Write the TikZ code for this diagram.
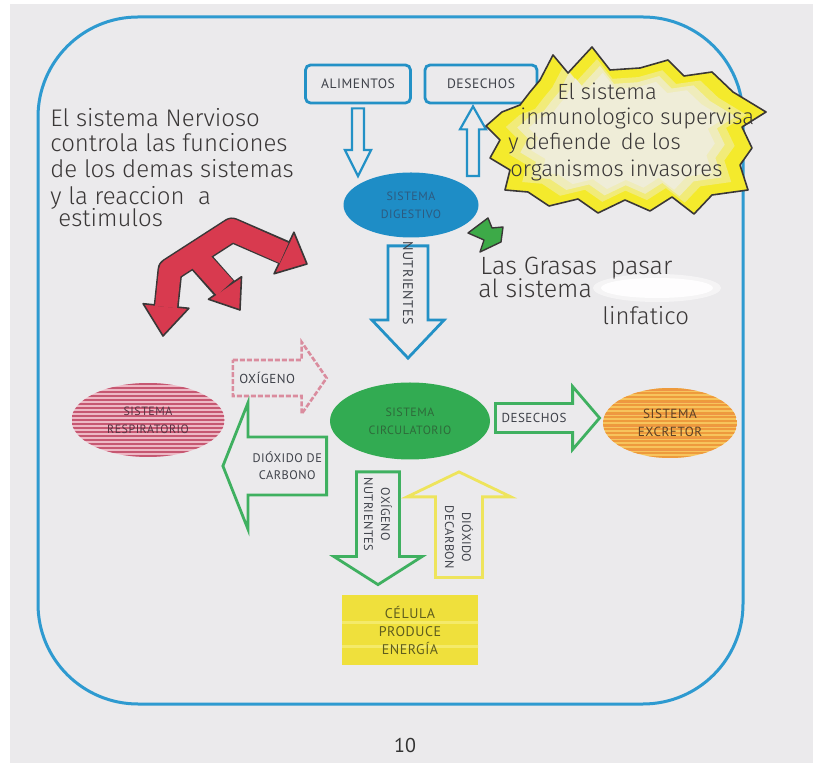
\documentclass[tikz,border=0pt]{standalone}
\usepackage{fontspec}
\setmainfont{PT Sans}
\newfontfamily\labelfont[LetterSpace=4]{PT Sans}
\newfontfamily\handfont{Fira Sans Light}
\usetikzlibrary{calc,shapes.geometric}

\definecolor{paper}{HTML}{EBEAEC}
\definecolor{frameblue}{HTML}{2E9AD0}
\definecolor{boxblue}{HTML}{2391C6}
\definecolor{digblue}{HTML}{1E8DC6}
\definecolor{digtext}{HTML}{2D5A80}
\definecolor{circgreen}{HTML}{32AB52}
\definecolor{circtext}{HTML}{2E6A3A}
\definecolor{arrowgreen}{HTML}{3FB060}
\definecolor{arrowpink}{HTML}{DA8C9E}
\definecolor{arrowyellow}{HTML}{EEE45C}
\definecolor{inkgray}{HTML}{3E4149}
\definecolor{pencil}{HTML}{3A3737}
\definecolor{respdark}{HTML}{C65872}
\definecolor{resplight}{HTML}{EDB9C5}
\definecolor{resptext}{HTML}{5A3242}
\definecolor{excrlight}{HTML}{F7C45C}
\definecolor{excrdark}{HTML}{EE9A3C}
\definecolor{excrred}{HTML}{E8763A}
\definecolor{excrtext}{HTML}{5E4226}
\definecolor{cellyellow}{HTML}{EFE03C}
\definecolor{celllight}{HTML}{F4EA6A}
\definecolor{celltext}{HTML}{5F5D1E}
\definecolor{markerred}{HTML}{D83A4F}
\definecolor{markergreen}{HTML}{3DAA48}
\definecolor{burstyellow}{HTML}{F4EA2C}
\definecolor{burstpale}{HTML}{EFEDD8}

% hollow block arrow: style, tail, tip, half shaft width, half head width, head length
\newcommand\blockarrow[6]{%
  \coordinate (ba-base) at ($(#3)!#6!(#2)$);
  \draw[#1] ($(#2)!#4!90:(#3)$) -- ($(ba-base)!#4!90:(#3)$) -- ($(ba-base)!#5!90:(#3)$)
    -- (#3) -- ($(ba-base)!#5!-90:(#3)$) -- ($(ba-base)!#4!-90:(#3)$) -- ($(#2)!#4!-90:(#3)$) -- cycle;
}
% marker arrow head: tip, base, half width
\newcommand\markerhead[3]{%
  \filldraw[fill=markerred, draw=pencil, line width=0.8pt, line join=round]
    ($(#2)!#3!90:(#1)$) -- (#1) -- ($(#2)!#3!-90:(#1)$) -- cycle;
}

\begin{document}
\begin{tikzpicture}[x=0.5pt,y=-0.5pt,
  lbl/.style={font=\labelfont\fontsize{6.8}{8}\selectfont, text=inkgray, align=center, inner sep=0pt},
  hand/.style={font=\handfont\fontsize{12}{14}\selectfont, text=pencil, anchor=base west, inner sep=0pt},
  topbox/.style={draw=boxblue, line width=1.4pt, rounded corners=2.5pt, minimum height=19pt, inner sep=0pt},
  sysellipse/.style={ellipse, inner sep=0pt},
  bluearrow/.style={draw=boxblue, line width=1.1pt},
  greenarrow/.style={draw=arrowgreen, line width=1.4pt},
  pinkarrow/.style={draw=arrowpink, line width=1.3pt, dash pattern=on 2.5pt off 1pt},
  yellowarrow/.style={draw=arrowyellow, line width=1.4pt},
]
\useasboundingbox (0,0) rectangle (813,763);
\fill[paper] (0,0) rectangle (813,763);
\fill[white] (0,0) rectangle (10,763);
\fill[white] (0,0) rectangle (813,4);

% outer frame
\draw[frameblue, line width=1.5pt, rounded corners=50pt] (38,17) rectangle (743,704);

% top boxes
\node[topbox, lbl, minimum width=52.5pt] (alim) at (358,84) {ALIMENTOS};
\node[topbox, lbl, minimum width=56pt] (desA) at (481,84) {DESECHOS};

% systems
\node[sysellipse, lbl, fill=digblue, minimum width=67.5pt, minimum height=32.5pt,
      text=digtext, font=\labelfont\fontsize{6}{9}\selectfont] (dig) at (411,205) {SISTEMA\\DIGESTIVO};
\node[sysellipse, lbl, fill=circgreen, minimum width=80pt, minimum height=38.5pt,
      text=circtext, font=\labelfont\fontsize{6}{9}\selectfont] (circ) at (410,421) {SISTEMA\\CIRCULATORIO};
\node[sysellipse, lbl, minimum width=76.5pt, minimum height=37pt,
      text=resptext, font=\labelfont\fontsize{6}{9}\selectfont,
      path picture={
        \fill[resplight] (path picture bounding box.north west) rectangle (path picture bounding box.south east);
        \foreach \k in {0,4,...,76}
          \fill[respdark] ($(path picture bounding box.north west)+(0,\k)$) rectangle ++(160,2);
      }] (resp) at (148,420) {SISTEMA\\RESPIRATORIO};
\node[sysellipse, lbl, minimum width=67pt, minimum height=35pt,
      text=excrtext, font=\labelfont\fontsize{6.6}{9}\selectfont,
      path picture={
        \fill[excrlight] (path picture bounding box.north west) rectangle (path picture bounding box.south east);
        \foreach \k in {0,4,...,72}
          \fill[excrdark] ($(path picture bounding box.north west)+(0,\k)$) rectangle ++(140,2);
        \foreach \k in {2,14,...,72}
          \fill[excrred, opacity=0.6] ($(path picture bounding box.north west)+(0,\k)$) rectangle ++(140,1.2);
      }] (excr) at (670,423) {SISTEMA\\EXCRETOR};
\node[lbl, minimum width=68pt, minimum height=35pt, text=celltext,
      font=\labelfont\fontsize{7}{9}\selectfont,
      path picture={
        \fill[cellyellow] (path picture bounding box.north west) rectangle (path picture bounding box.south east);
        \foreach \k in {26,50}
          \fill[celllight] ($(path picture bounding box.north west)+(0,\k)$) rectangle ++(140,3);
      }] (cell) at (410,630) {CÉLULA\\PRODUCE\\ENERGÍA};

% food goes down into the digestive system
\coordinate (alA) at ($(alim.south)+(0,4)$);
\coordinate (alB) at ($(alim.south |- dig.north)+(0,4)$);
\blockarrow{bluearrow}{alA}{alB}{3pt}{6.5pt}{13pt}

% waste leaves the digestive system
\coordinate (wdA) at ($(desA.south |- dig.north)+(-8,4)$);
\coordinate (wdB) at ($(desA.south)+(-8,2)$);
\blockarrow{bluearrow}{wdA}{wdB}{3pt}{6.5pt}{11.5pt}

% nutrients to the blood
\coordinate (nuA) at ($(dig.south)+(-3,8)$);
\coordinate (nuB) at ($(circ.north)+(-2,-24)$);
\blockarrow{bluearrow, line width=1.4pt}{nuA}{nuB}{10pt}{18pt}{19pt}
\path (nuA) -- (ba-base) node[midway, lbl, rotate=-90, font=\labelfont\fontsize{7}{8}\selectfont] (nuT) {NUTRIENTES};

% oxygen from the lungs
\coordinate (oxA) at ($(resp.east)+(8,-42)$);
\coordinate (oxB) at ($(circ.west)+(-3,-43)$);
\blockarrow{pinkarrow}{oxA}{oxB}{9pt}{18pt}{12.5pt}
\path (oxA) -- (ba-base) node[midway, lbl, font=\labelfont\fontsize{6.5}{8}\selectfont] (oxT) {OXÍGENO};

% carbon dioxide back to the lungs
\coordinate (dcA) at ($(circ.west)+(-3,45)$);
\coordinate (dcB) at ($(resp.east)+(-2,46)$);
\blockarrow{greenarrow}{dcA}{dcB}{14.5pt}{31.5pt}{12.5pt}
\path (dcA) -- (ba-base) node[midway, lbl, font=\labelfont\fontsize{6.2}{8.5}\selectfont] (dcT) {DIÓXIDO DE\\CARBONO};

% waste to the excretory system
\coordinate (deA) at ($(circ.east)+(5,-3)$);
\coordinate (deB) at ($(excr.west)+(-3,-5)$);
\blockarrow{greenarrow}{deA}{deB}{7.25pt}{15.75pt}{13.5pt}
\path (deA) -- (ba-base) node[midway, lbl, font=\labelfont\fontsize{6.5}{8}\selectfont] (deT) {DESECHOS};

% oxygen and nutrients to the cell
\coordinate (onA) at ($(circ.south)+(-32,12)$);
\coordinate (onB) at ($(cell.north)+(-32,-10)$);
\blockarrow{greenarrow}{onA}{onB}{10.75pt}{22pt}{14pt}
\path (onA) -- (ba-base) node[midway, lbl, rotate=-90, font=\labelfont\fontsize{6.2}{8.5}\selectfont] (onT) {OXÍGENO\\NUTRIENTES};

% carbon dioxide from the cell
\coordinate (dyA) at ($(cell.north)+(49,-17)$);
\coordinate (dyB) at ($(circ.south)+(49,12)$);
\blockarrow{yellowarrow}{dyA}{dyB}{11.75pt}{26pt}{12.5pt}
\path (dyA) -- (ba-base) node[midway, lbl, rotate=-90, font=\labelfont\fontsize{6.2}{8.5}\selectfont] (dyT) {DIÓXIDO\\DECARBON};

% immune system burst: bright marker rim, pale centre
\def\burstpath{(540,80) -- (553,55) -- (568,73) -- (592,47) -- (610,70) -- (640,68) -- (668,60)
  -- (684,76) -- (712,72) -- (733,92) -- (766,112) -- (742,127) -- (752,148) -- (740,165)
  -- (748,190) -- (712,195) -- (694,214) -- (672,197) -- (650,211) -- (625,200) -- (598,213)
  -- (578,199) -- (549,206) -- (528,192) -- (505,190) -- (510,170) -- (490,158) -- (500,140)
  -- (486,126) -- (502,112) -- (520,105) -- (530,92) -- cycle}
\fill[burstyellow] \burstpath;
\begin{scope}[shift={(628,133)}, scale=0.86, shift={(-628,-133)}]
  \fill[burstpale, opacity=0.45] \burstpath;
\end{scope}
\begin{scope}[shift={(628,133)}, scale=0.78, shift={(-628,-133)}]
  \fill[burstpale, opacity=0.7] \burstpath;
\end{scope}
\begin{scope}[shift={(628,133)}, scale=0.7, shift={(-628,-133)}]
  \fill[burstpale] \burstpath;
\end{scope}
\draw[pencil, line width=0.8pt, line join=round] \burstpath;

\node[hand, font=\handfont\fontsize{11}{13}\selectfont] (im1) at (557,100) {El sistema};
\node[hand, font=\handfont\fontsize{11}{13}\selectfont] (im2) at (520,125) {inmunologico supervisa};
\node[hand, font=\handfont\fontsize{11}{13}\selectfont] (im3) at (508,150) {y defiende\, de los};
\node[hand, font=\handfont\fontsize{11}{13}\selectfont] (im4) at (510,177) {organismos invasores};

% nervous system note
\node[hand] (nv1) at (50,127) {El sistema Nervioso};
\node[hand] (nv2) at (50,152) {controla las funciones};
\node[hand] (nv3) at (50,178) {de los demas sistemas};
\node[hand] (nv4) at (50,205) {y la reaccion\ \ a};
\node[hand] (nv5) at (58,227) {estimulos};

% red three-headed marker arrow
\begin{scope}[line join=round, line cap=butt]
  \draw[pencil, line width=12.5pt] (166,308) -- (170,270) -- (232,230) -- (285,253);
  \draw[pencil, line width=12.5pt] (196,256) -- (226,290);
  \coordinate (rhL) at (163,336); \coordinate (rbL) at (166,306);
  \coordinate (rhM) at (240,310); \coordinate (rbM) at (225,288);
  \coordinate (rhR) at (307,264); \coordinate (rbR) at (284,253);
  \markerhead{rhL}{rbL}{11.5pt}
  \markerhead{rhM}{rbM}{10pt}
  \markerhead{rhR}{rbR}{11.5pt}
  \draw[markerred, line width=11pt] (166,307) -- (170,270) -- (232,230) -- (284,253);
  \draw[markerred, line width=11pt] (196,256) -- (225,288);
\end{scope}

% green marker arrow and fats note
\filldraw[fill=markergreen, draw=pencil, line width=0.7pt, line join=round]
  (468,233) -- (488,218) -- (492,228) -- (503,227) -- (501,242) -- (480,252) -- (484,240) -- cycle;
\node[hand, font=\handfont\fontsize{12.5}{14}\selectfont] (gr1) at (480,275) {Las Grasas\ \ pasar};
\node[hand, font=\handfont\fontsize{12.5}{14}\selectfont] (gr2) at (478,298) {al sistema};
\fill[white, opacity=0.5] (657,288) ellipse [x radius=64, y radius=14];
\fill[white, opacity=0.9] (657,288) ellipse [x radius=56, y radius=10];
\node[hand, font=\handfont\fontsize{12}{14}\selectfont] (gr3) at (602,325) {linfatico};

% page number
\node[font=\fontsize{10}{12}\selectfont, text=black!80] (pagenum) at (405,745) {10};
\end{tikzpicture}
\end{document}
